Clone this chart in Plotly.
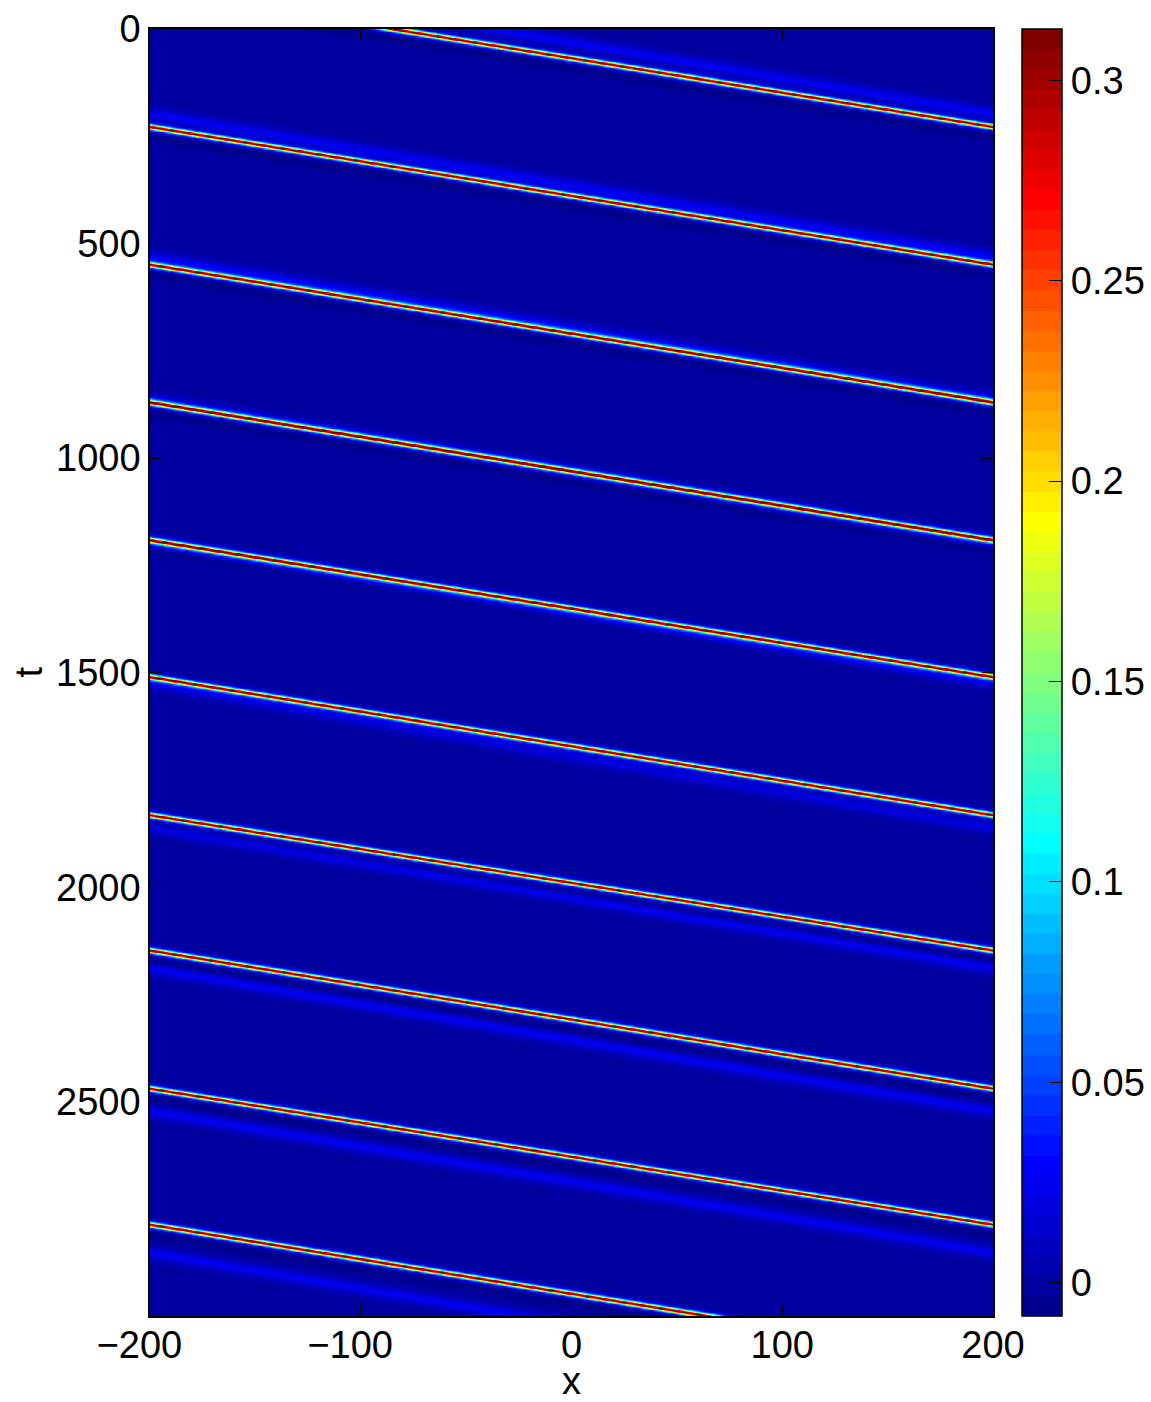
import numpy as np
import plotly.graph_objects as go

# ---- values ----
x_ticks = [-200, -100, 0, 100, 200]
x_ticklabels = ["\u2212200", "\u2212100", "0", "100", "200"]
t_ticks = [0, 500, 1000, 1500, 2000, 2500]
cb_ticks = [0, 0.05, 0.1, 0.15, 0.2, 0.25, 0.3]
cb_ticktext = ["0", "0.05", "0.1", "0.15", "0.2", "0.25", "0.3"]
z_min, z_max = -0.0083, 0.3128
x_min, x_max = -200, 200
t_min, t_max = 0, 2999

# times at which the soliton crest crosses x = -200
crossing_t = [-92, 228, 549, 870, 1191, 1510, 1832, 2147, 2469, 2786, 3108]
soliton_amp = 0.3128
soliton_k = 0.15
# weak companion hump: amplitude, width, offset ahead of crest at t=0, drift per unit t
hump_amp = 0.026
hump_k = 0.07
hump_offset0 = 47
hump_drift = -0.045
# shallow trough trailing the crest
trough_amp = -0.008
trough_k = 0.07
trough_offset = -28

# ---- grid ----
x = np.linspace(x_min, x_max, 401)
t = np.linspace(t_min, t_max, 3000)
cross = np.array(crossing_t, dtype=float)
idx = np.clip(np.searchsorted(cross, t, side="right") - 1, 0, len(cross) - 2)
frac = (t - cross[idx]) / (cross[idx + 1] - cross[idx])
xs = x_min + (x_max - x_min) * frac

X, XS = np.meshgrid(x, xs)
T = np.meshgrid(x, t)[1]
L = x_max - x_min


def wrap(d):
    return (d + L / 2) % L - L / 2


def sech2(a):
    return 1.0 / np.cosh(a) ** 2


u = soliton_amp * sech2(soliton_k * wrap(X - XS))
u += hump_amp * sech2(hump_k * wrap(X - XS - (hump_offset0 + hump_drift * T)))
u += trough_amp * sech2(trough_k * wrap(X - XS - trough_offset))
u = np.clip(np.round(u, 4), z_min, z_max)

# ---- MATLAB jet(64) as a stepped colour scale ----
m = 64
n = int(np.ceil(m / 4))
uu = np.concatenate([np.arange(1, n + 1) / n, np.ones(n - 1), np.arange(n, 0, -1) / n])
g = int(np.ceil(n / 2)) - (1 if m % 4 == 1 else 0) + np.arange(1, len(uu) + 1)
r = g + n
b = g - n
J = np.zeros((m, 3))
for arr, col in ((r, 0), (g, 1), (b, 2)):
    ok = (arr >= 1) & (arr <= m)
    J[arr[ok] - 1, col] = uu[ok]
colorscale = []
for i in range(m):
    c = "rgb(%d,%d,%d)" % tuple(np.round(J[i] * 255).astype(int))
    colorscale.append([i / m, c])
    colorscale.append([(i + 1) / m, c])

font = dict(family="Liberation Sans, Arial, sans-serif", size=38, color="black")

PL, PR, PT, PB = 150, 993, 29, 1316
PW, PH = PR - PL, PB - PT

fig = go.Figure(
    go.Heatmap(
        x=x,
        y=t,
        z=u,
        zmin=z_min,
        zmax=z_max,
        colorscale=colorscale,
        zsmooth="best",
        colorbar=dict(
            thickness=40,
            thicknessmode="pixels",
            len=1,
            lenmode="fraction",
            x=(1022 - PL) / PW,
            xanchor="left",
            y=0.5,
            yanchor="middle",
            xpad=0,
            ypad=0,
            outlinecolor="black",
            outlinewidth=1.5,
            ticks="inside",
            ticklen=13,
            tickwidth=1.2,
            tickcolor="black",
            tickvals=cb_ticks,
            ticktext=cb_ticktext,
            tickfont=font,
        ),
    )
)

# left-side ticks of the colour bar (MATLAB draws them on both edges)
cb_x0 = (1022 - PL) / PW
cb_x1 = cb_x0 + 13 / PW
for v in cb_ticks:
    yp = (v - z_min) / (z_max - z_min)
    fig.add_shape(type="line", xref="paper", yref="paper", x0=cb_x0, x1=cb_x1,
                  y0=yp, y1=yp, line=dict(color="black", width=1.2))

axis_common = dict(
    showline=True,
    linecolor="black",
    linewidth=1.5,
    mirror="ticks",
    ticks="inside",
    ticklen=11,
    tickwidth=1.2,
    tickcolor="black",
    tickfont=font,
    showgrid=False,
    zeroline=False,
    automargin=False,
)
# MATLAB centres the digits on the tick and hangs the minus sign to the left
x_ticktext = [s + "\u00a0\u00a0" if s.startswith("\u2212") else s for s in x_ticklabels]
fig.update_xaxes(range=[x_min, x_max], tickvals=x_ticks, ticktext=x_ticktext,
                 ticklabelstandoff=-5, **axis_common)
fig.update_yaxes(range=[t_max, t_min], tickvals=t_ticks, **axis_common)

fig.add_annotation(text="x", xref="paper", yref="paper", x=0.5, y=0,
                   yshift=-(1381 - PB), yanchor="middle", showarrow=False,
                   font=font, borderpad=0)
fig.add_annotation(text="t", xref="paper", yref="paper", x=0, y=0.5,
                   xshift=-(PL - 28), xanchor="center", textangle=-90,
                   showarrow=False, font=font)

fig.update_layout(
    width=1151,
    height=1402,
    margin=dict(l=PL, r=1151 - PR, t=PT, b=1402 - PB, autoexpand=False),
    paper_bgcolor="white",
    plot_bgcolor="white",
    font=font,
)

fig.write_html(
    "out.html",
    config={"displayModeBar": False},
    post_script="document.body.style.margin='0px';document.body.style.overflow='hidden';",
)
